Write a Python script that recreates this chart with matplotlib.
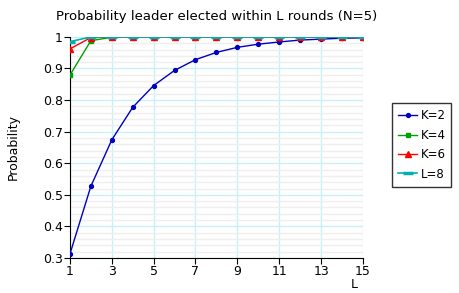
import matplotlib
matplotlib.use("Agg")
import matplotlib.pyplot as plt
from matplotlib.ticker import MultipleLocator, FuncFormatter

L = list(range(1, 16))
k2 = [0.3125, 0.527, 0.674, 0.777, 0.846, 0.894, 0.928, 0.951, 0.967, 0.977, 0.984, 0.990, 0.993, 0.996, 0.997]
k4 = [0.879, 0.988, 0.999, 1.0, 1.0, 1.0, 1.0, 1.0, 1.0, 1.0, 1.0, 1.0, 1.0, 1.0, 1.0]
k6 = [0.962, 0.998, 1.0, 1.0, 1.0, 1.0, 1.0, 1.0, 1.0, 1.0, 1.0, 1.0, 1.0, 1.0, 1.0]
l8 = [0.985, 1.0, 1.0, 1.0, 1.0, 1.0, 1.0, 1.0, 1.0, 1.0, 1.0, 1.0, 1.0, 1.0, 1.0]
labels = ["K=2", "K=4", "K=6", "L=8"]
xticks = [1, 3, 5, 7, 9, 11, 13, 15]

plt.rcParams['font.family'] = ['DejaVu Sans']
fig = plt.figure(figsize=(4.6, 2.93), dpi=100)
ax = fig.add_axes([0.152, 0.1195, 0.637, 0.7545])

ax.plot(L, k2, color='#0000c0', marker='o', markersize=2.8, lw=1, label=labels[0], zorder=3)
ax.plot(L, k4, color='#00a000', marker='s', markersize=3.5, lw=1, label=labels[1], zorder=4)
ax.plot(L, k6, color='#ff0000', marker='^', markersize=4.5, lw=1, label=labels[2], zorder=5)
ax.plot(L, l8, color='#00b0b0', marker='_', markersize=7, mew=2.5, lw=1.2, label=labels[3], zorder=6)

ax.set_xlim(1, 15)
ax.set_ylim(0.3, 1.0)
ax.set_xticks(xticks)
ax.yaxis.set_major_locator(MultipleLocator(0.1))
ax.yaxis.set_minor_locator(MultipleLocator(0.02))
ax.yaxis.set_major_formatter(FuncFormatter(lambda v, p: ('%g' % round(v, 2))))
ax.grid(True, which='major', color='#c8f0f8', lw=1, zorder=1)
ax.grid(True, which='minor', axis='y', color='#eeeeee', lw=1, zorder=0)
ax.set_axisbelow(True)
for s in ['top', 'right']:
    ax.spines[s].set_visible(False)
ax.tick_params(which='major', length=4, labelsize=9, pad=1, color='black')
ax.tick_params(which='minor', length=0)

ax.set_title("Probability leader elected within L rounds (N=5)", fontsize=9.5, pad=12)
ax.set_ylabel("Probability", fontsize=9, labelpad=17)
ax.set_xlabel("L", fontsize=9, labelpad=1)
ax.xaxis.set_label_coords(0.97, -0.09)

leg = ax.legend(loc='upper left', bbox_to_anchor=(1.10, 0.70), fontsize=8.5, frameon=True,
                fancybox=False, edgecolor='black', handlelength=1.6, borderpad=0.5,
                labelspacing=0.55, handletextpad=0.3, borderaxespad=0)
leg.get_frame().set_linewidth(1)

fig.savefig("out.png", dpi=100)
